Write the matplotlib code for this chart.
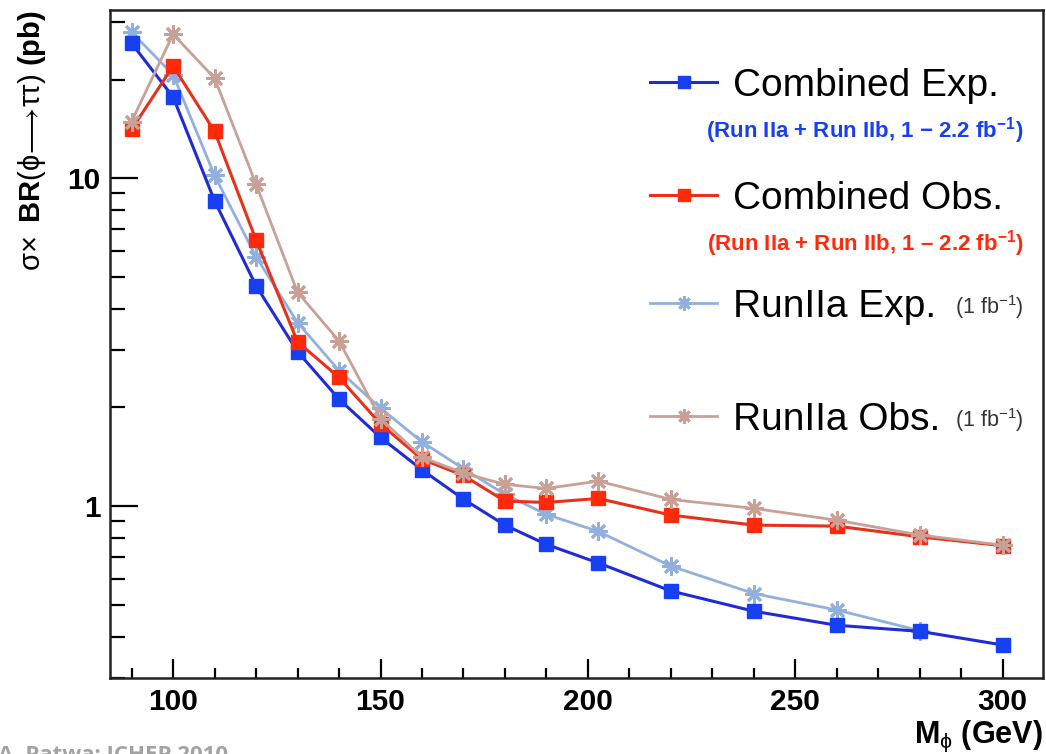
import matplotlib
matplotlib.use("Agg")
import matplotlib.pyplot as plt
from matplotlib.ticker import LogLocator, FixedLocator, FixedFormatter, NullFormatter, MultipleLocator

plt.rcParams.update({
    "font.family": "Liberation Sans",
    "mathtext.fontset": "custom",
    "mathtext.rm": "Liberation Sans",
    "mathtext.bf": "Liberation Sans:bold",
    "mathtext.it": "Liberation Sans:italic",
})

# Higgs mass points (GeV)
mass = [90, 100, 110, 120, 130, 140, 150, 160, 170, 180, 190, 202.5, 220, 240, 260, 280, 300]
mass_iia = mass[:16]

# 95% CL limits on sigma x BR(phi -> tau tau), pb
comb_exp = [25.8, 17.7, 8.53, 4.70, 2.96, 2.12, 1.62, 1.29, 1.05, 0.875, 0.764, 0.671,
            0.551, 0.478, 0.433, 0.415, 0.377]
comb_obs = [14.1, 22.0, 13.9, 6.48, 3.17, 2.47, 1.78, 1.39, 1.24, 1.036, 1.026, 1.055,
            0.939, 0.875, 0.869, 0.806, 0.757]
iia_exp = [27.9, 20.7, 10.2, 5.76, 3.63, 2.59, 1.99, 1.57, 1.30, 1.086, 0.943, 0.837,
           0.656, 0.541, 0.482, 0.417]
iia_obs = [14.9, 27.5, 20.2, 9.59, 4.49, 3.19, 1.85, 1.41, 1.26, 1.165, 1.132, 1.192,
           1.048, 0.984, 0.906, 0.816, 0.760]

series_labels = ["Combined Exp.", "Combined Obs.", "RunIIa Exp.", "RunIIa Obs."]
sub_labels = ["(Run IIa + Run IIb, 1 \u2212 2.2 fb$^{\\mathbf{-1}}$)",
              "(Run IIa + Run IIb, 1 \u2013 2.2 fb$^{\\mathbf{-1}}$)",
              "(1 fb$^{-1}$)", "(1 fb$^{-1}$)"]

BLUE_LINE, BLUE = "#1f2bd6", "#1640f2"
RED_LINE, RED = "#e8301a", "#ff2a0a"
LBLUE = "#92b0de"
ROSE = "#c9a096"
STAR = (8, 2, 0)

fig = plt.figure(figsize=(10.46, 7.54), dpi=100)
ax = fig.add_axes([0.1052, 0.1008, 0.8919, 0.8859])

styles = [
    dict(color=LBLUE, lw=2.0, marker=STAR, ms=13, mew=2.0, mec=LBLUE),
    dict(color=BLUE_LINE, lw=2.2, marker="s", ms=10, mfc=BLUE, mec=BLUE),
    dict(color=RED_LINE, lw=2.2, marker="s", ms=10, mfc=RED, mec=RED),
    dict(color=ROSE, lw=2.0, marker=STAR, ms=13, mew=2.0, mec=ROSE),
]
ax.plot(mass_iia, iia_exp, **styles[0])
ax.plot(mass, comb_exp, **styles[1])
ax.plot(mass, comb_obs, **styles[2])
ax.plot(mass, iia_obs, **styles[3])

ax.set_yscale("log")
ax.set_xlim(84.8, 309.7)
ax.set_ylim(0.299, 32.6)

ax.xaxis.set_major_locator(FixedLocator([100, 150, 200, 250, 300]))
ax.xaxis.set_minor_locator(MultipleLocator(10))
ax.yaxis.set_major_locator(FixedLocator([1, 10]))
ax.yaxis.set_major_formatter(FixedFormatter(["1", "10"]))
ax.yaxis.set_minor_locator(LogLocator(base=10, subs=range(2, 10)))
ax.yaxis.set_minor_formatter(NullFormatter())

ax.tick_params(which="both", direction="in", top=False, right=False, width=1.6,
               labelsize=21.5, pad=7)
ax.tick_params(axis="x", which="major", length=14)
ax.tick_params(axis="x", which="minor", length=7)
ax.tick_params(axis="y", which="major", length=20)
ax.tick_params(axis="y", which="minor", length=11)
for lab in ax.get_xticklabels() + ax.get_yticklabels():
    lab.set_fontweight("bold")
for sp in ax.spines.values():
    sp.set_linewidth(1.8)
    sp.set_color("#222222")

ax.set_xlabel(r"$\mathbf{M}_{\mathrm{\phi}}$ (GeV)", fontsize=22, fontweight="bold",
              loc="right", labelpad=2)
ax.set_ylabel(r"$\mathrm{\sigma}\!\times$ $\mathbf{BR}(\mathrm{\phi}\!\longrightarrow\!\mathrm{\tau\tau})$ $\mathbf{(pb)}$",
              fontsize=21, loc="top", labelpad=14)

# hand-placed legend block (axes coordinates)
key_y = [0.8922, 0.7230, 0.5609, 0.3915]
key_styles = [styles[1], styles[2], styles[0], styles[3]]
for y, st, label in zip(key_y, key_styles, series_labels):
    st = dict(st)
    st["ms"] = st["ms"] * 0.8
    ax.plot([0.5788, 0.6506], [y, y], transform=ax.transAxes, clip_on=False,
            **{k: v for k, v in st.items() if k not in ("marker", "ms", "mew", "mfc", "mec")})
    ax.plot([0.6147], [y], transform=ax.transAxes, clip_on=False, ls="none", **st)
    ax.text(0.6677, y, label, transform=ax.transAxes, fontsize=28, va="center_baseline",
            ha="left", color="black")

sub_y = [0.8263, 0.6572, 0.5609, 0.3915]
sub_colors = [BLUE, RED, "#333333", "#333333"]
for i, (y, txt, c) in enumerate(zip(sub_y, sub_labels, sub_colors)):
    if i < 2:
        ax.text(0.9789, y, txt, transform=ax.transAxes, ha="right", va="center_baseline",
                fontsize=16, fontweight="bold", color=c)
    else:
        ax.text(0.9789, y, txt, transform=ax.transAxes, ha="right", va="center_baseline",
                fontsize=15.5, color=c)

fig.text(-0.002, 0.012, "A. Patwa: ICHEP 2010", ha="left", va="top", fontsize=16,
         fontweight="bold", color="#a3a3a3", family="Open Sans")

fig.savefig("out.png", dpi=100)
